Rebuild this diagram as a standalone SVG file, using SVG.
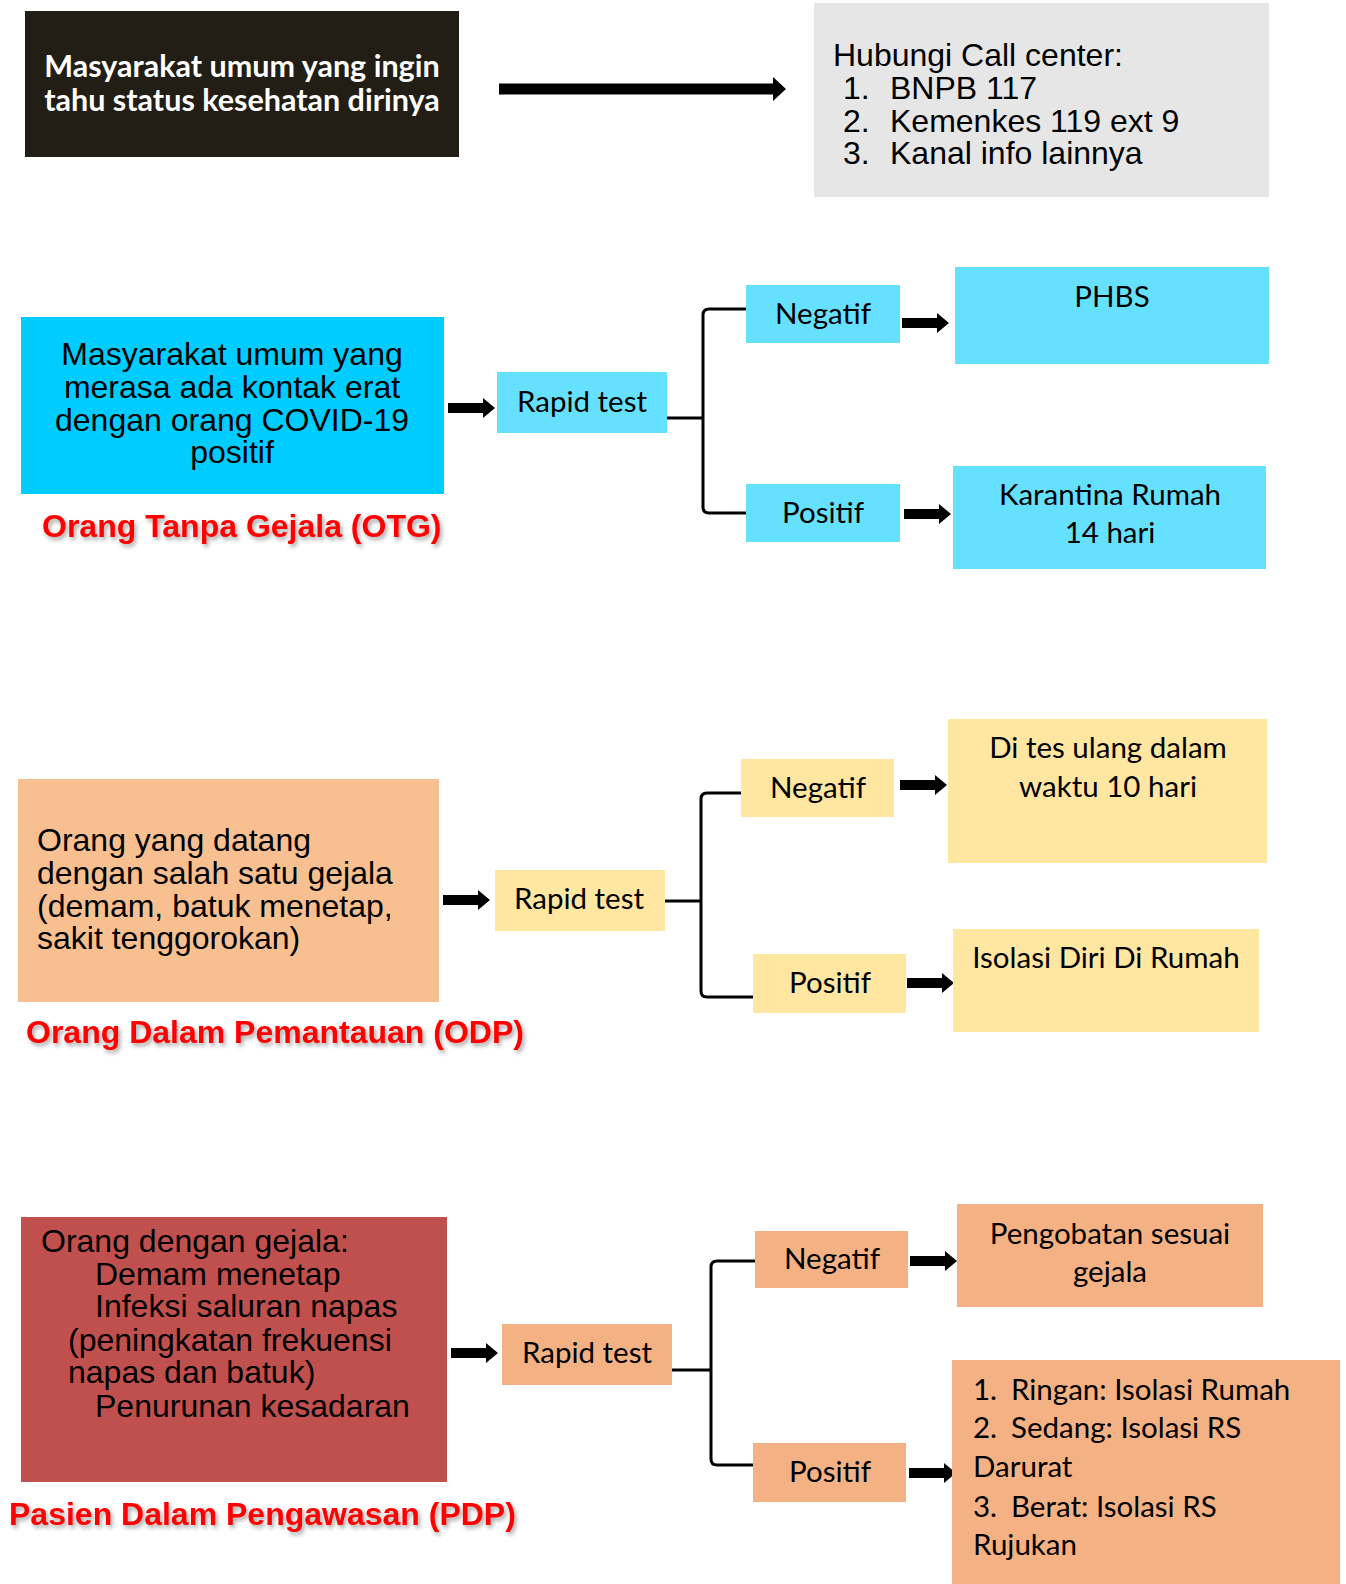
<svg xmlns="http://www.w3.org/2000/svg" xmlns:xlink="http://www.w3.org/1999/xlink" width="1346" height="1584" viewBox="0 0 1346 1584">
<style>
.ar{font-family:"Liberation Sans",Arial,sans-serif;font-size:32px;fill:#000}
.ca{font-family:Lato,"Open Sans",sans-serif;font-size:29.5px;fill:#000}
.cb{font-family:Lato,"Open Sans",sans-serif;font-size:30.5px;font-weight:bold;fill:#fff}
.hd{font-family:"Liberation Sans",Arial,sans-serif;font-size:32px;font-weight:bold;fill:#ff0000;filter:url(#sh)}
.mid{text-anchor:middle}
.brk{fill:none;stroke:#000;stroke-width:3}
</style>
<defs>
<filter id="sh" x="-5%" y="-30%" width="115%" height="180%">
<feDropShadow dx="2" dy="3" stdDeviation="2" flood-color="#000" flood-opacity="0.35"/>
</filter>
<path id="arr" d="M0,-5 H35 V-10 L47,0 L35,10 V5 H0 Z" fill="#000"/>
</defs>
<rect width="1346" height="1584" fill="#fff"/>

<g id="connectors">
<path d="M499,83.5 H773 V77 L786,89 L773,101 V94.5 H499 Z" fill="#000"/>
<use xlink:href="#arr" x="448" y="408"/>
<use xlink:href="#arr" x="902" y="323"/>
<use xlink:href="#arr" x="904" y="514"/>
<path class="brk" d="M667,418 H703 M746,309 H709 Q703,309 703,315 V507 Q703,513 709,513 H746"/>
<use xlink:href="#arr" x="443" y="900"/>
<use xlink:href="#arr" x="900" y="785"/>
<use xlink:href="#arr" x="907" y="983"/>
<path class="brk" d="M664,901 H701 M741,793 H707 Q701,793 701,799 V991 Q701,997 707,997 H753"/>
<use xlink:href="#arr" x="451" y="1353"/>
<use xlink:href="#arr" x="910" y="1261"/>
<use xlink:href="#arr" x="909" y="1473"/>
<path class="brk" d="M672,1370 H711 M755,1261 H717 Q711,1261 711,1267 V1459 Q711,1465 717,1465 H753"/>
</g>

<g id="node-umum">
<rect x="25" y="11" width="434" height="146" fill="#221e15"/>
<text class="cb mid" x="242" y="77">Masyarakat umum yang ingin</text>
<text class="cb mid" x="242" y="111">tahu status kesehatan dirinya</text>
</g>
<g id="node-callcenter">
<rect x="814" y="3" width="455" height="194" fill="#e6e6e6"/>
<text class="ar" x="833" y="66">Hubungi Call center:</text>
<text class="ar" x="843" y="99">1.</text><text class="ar" x="890" y="99">BNPB 117</text>
<text class="ar" x="843" y="132">2.</text><text class="ar" x="890" y="132">Kemenkes 119 ext 9</text>
<text class="ar" x="843" y="164">3.</text><text class="ar" x="890" y="164">Kanal info lainnya</text>
</g>

<g id="node-otg">
<rect x="21" y="317" width="423" height="177" fill="#00ccff"/>
<text class="ar mid" x="232" y="365">Masyarakat umum yang</text>
<text class="ar mid" x="232" y="398">merasa ada kontak erat</text>
<text class="ar mid" x="232" y="431">dengan orang COVID-19</text>
<text class="ar mid" x="232" y="463">positif</text>
</g>
<g id="label-otg"><text class="hd" x="42" y="537">Orang Tanpa Gejala (OTG)</text></g>
<g id="node-otg-rapid">
<rect x="497" y="372" width="170" height="61" fill="#66e0ff"/>
<text class="ca mid" x="582" y="412">Rapid test</text>
</g>
<g id="node-otg-neg">
<rect x="746" y="285" width="154" height="58" fill="#66e0ff"/>
<text class="ca mid" x="823" y="324">Negatif</text>
</g>
<g id="node-otg-pos">
<rect x="746" y="484" width="154" height="58" fill="#66e0ff"/>
<text class="ca mid" x="823" y="523">Positif</text>
</g>
<g id="node-phbs">
<rect x="955" y="267" width="314" height="97" fill="#66e0ff"/>
<text class="ca mid" x="1112" y="307">PHBS</text>
</g>
<g id="node-karantina">
<rect x="953" y="466" width="313" height="103" fill="#66e0ff"/>
<text class="ca mid" x="1110" y="505">Karantina Rumah</text>
<text class="ca mid" x="1110" y="543">14 hari</text>
</g>

<g id="node-odp">
<rect x="18" y="779" width="421" height="223" fill="#f8c090"/>
<text class="ar" x="37" y="851">Orang yang datang</text>
<text class="ar" x="37" y="884">dengan salah satu gejala</text>
<text class="ar" x="37" y="917">(demam, batuk menetap,</text>
<text class="ar" x="37" y="949">sakit tenggorokan)</text>
</g>
<g id="label-odp"><text class="hd" x="26" y="1043">Orang Dalam Pemantauan (ODP)</text></g>
<g id="node-odp-rapid">
<rect x="495" y="870" width="170" height="61" fill="#ffe6a1"/>
<text class="ca mid" x="579" y="909">Rapid test</text>
</g>
<g id="node-odp-neg">
<rect x="741" y="759" width="153" height="58" fill="#ffe6a1"/>
<text class="ca mid" x="818" y="798">Negatif</text>
</g>
<g id="node-odp-pos">
<rect x="753" y="954" width="153" height="59" fill="#ffe6a1"/>
<text class="ca mid" x="830" y="993">Positif</text>
</g>
<g id="node-tesulang">
<rect x="948" y="719" width="319" height="144" fill="#ffe6a1"/>
<text class="ca mid" x="1108" y="758">Di tes ulang dalam</text>
<text class="ca mid" x="1108" y="797">waktu 10 hari</text>
</g>
<g id="node-isolasi">
<rect x="953" y="929" width="306" height="103" fill="#ffe6a1"/>
<text class="ca mid" x="1106" y="968">Isolasi Diri Di Rumah</text>
</g>

<g id="node-pdp">
<rect x="21" y="1217" width="426" height="265" fill="#c0504d"/>
<text class="ar" x="41" y="1252">Orang dengan gejala:</text>
<text class="ar" x="95" y="1285">Demam menetap</text>
<text class="ar" x="95" y="1317">Infeksi saluran napas</text>
<text class="ar" x="68" y="1351">(peningkatan frekuensi</text>
<text class="ar" x="68" y="1383">napas dan batuk)</text>
<text class="ar" x="95" y="1417">Penurunan kesadaran</text>
</g>
<g id="label-pdp"><text class="hd" x="9" y="1525">Pasien Dalam Pengawasan (PDP)</text></g>
<g id="node-pdp-rapid">
<rect x="502" y="1324" width="170" height="61" fill="#f4b183"/>
<text class="ca mid" x="587" y="1363">Rapid test</text>
</g>
<g id="node-pdp-neg">
<rect x="755" y="1231" width="153" height="57" fill="#f4b183"/>
<text class="ca mid" x="832" y="1269">Negatif</text>
</g>
<g id="node-pdp-pos">
<rect x="753" y="1443" width="153" height="59" fill="#f4b183"/>
<text class="ca mid" x="830" y="1482">Positif</text>
</g>
<g id="node-pengobatan">
<rect x="957" y="1204" width="306" height="103" fill="#f4b183"/>
<text class="ca mid" x="1110" y="1244">Pengobatan sesuai</text>
<text class="ca mid" x="1110" y="1282">gejala</text>
</g>
<g id="node-tingkat">
<rect x="952" y="1360" width="388" height="224" fill="#f4b183"/>
<text class="ca" x="973" y="1400">1.</text><text class="ca" x="1011" y="1400">Ringan: Isolasi Rumah</text>
<text class="ca" x="973" y="1438">2.</text><text class="ca" x="1011" y="1438">Sedang: Isolasi RS</text>
<text class="ca" x="973" y="1477">Darurat</text>
<text class="ca" x="973" y="1517">3.</text><text class="ca" x="1011" y="1517">Berat: Isolasi RS</text>
<text class="ca" x="973" y="1555">Rujukan</text>
</g>
</svg>
